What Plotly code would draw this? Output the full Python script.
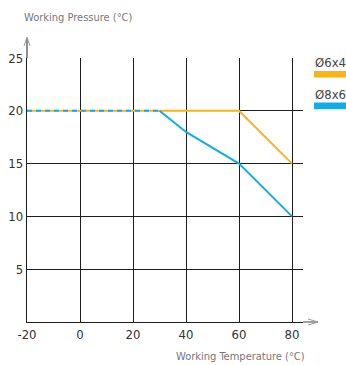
import plotly.graph_objects as go

# Data
temps_6x4 = [-20, 60, 80]
press_6x4 = [20, 20, 15]
temps_8x6_dash = [-20, 30]
press_8x6_dash = [20, 20]
temps_8x6 = [30, 40, 60, 80]
press_8x6 = [20, 18, 15, 10]
x_ticks = [-20, 0, 20, 40, 60, 80]
y_ticks = [5, 10, 15, 20, 25]
series_names = ["Ø6x4", "Ø8x6"]
series_colors = ["#FBB316", "#12ADE8"]

FONT = "DejaVu Sans Condensed, Liberation Sans Narrow, Roboto, sans-serif"
W, H = 346, 365
L, R, T, B = 27, 43, 58, 43
pw, ph = W - L - R, H - T - B

def px(xp):
    return (xp - L) / pw

def py(yp):
    return (H - B - yp) / ph

fig = go.Figure()
fig.add_trace(go.Scatter(x=temps_6x4, y=press_6x4, mode="lines",
                         line=dict(color=series_colors[0], width=2), showlegend=False))
fig.add_trace(go.Scatter(x=temps_8x6_dash, y=press_8x6_dash, mode="lines",
                         line=dict(color=series_colors[1], width=2, dash="5px,4px"), showlegend=False))
fig.add_trace(go.Scatter(x=temps_8x6, y=press_8x6, mode="lines",
                         line=dict(color=series_colors[1], width=2), showlegend=False))

grid = "#1e1e1e"
fig.update_xaxes(range=[-20, 84.15], tickvals=x_ticks, ticktext=[str(v) for v in x_ticks],
                 showgrid=True, gridcolor=grid, gridwidth=1.4, zeroline=False,
                 showline=True, linecolor=grid, linewidth=1.4, automargin=False,
                 tickfont=dict(family=FONT, size=13, color="#333"), ticks="", fixedrange=True)
fig.update_yaxes(range=[0, 25], tickvals=y_ticks, ticktext=[str(v) for v in y_ticks],
                 showgrid=True, gridcolor=grid, gridwidth=1.4, zeroline=False,
                 showline=True, linecolor=grid, linewidth=1.4, automargin=False,
                 tickfont=dict(family=FONT, size=13, color="#333"), ticks="", fixedrange=True)

shapes = []
# axis extensions with arrows
shapes.append(dict(type="line", xref="paper", yref="paper", x0=0, x1=0, y0=1, y1=py(38),
                   line=dict(color="#444", width=1.2)))
shapes.append(dict(type="path", xref="paper", yref="paper",
                   path=f"M {px(24)},{py(46)} L {px(27)},{py(37)} L {px(30)},{py(46)}",
                   line=dict(color="#999", width=1)))
shapes.append(dict(type="line", xref="paper", yref="paper", x0=1, x1=px(318), y0=0, y1=0,
                   line=dict(color="#666", width=1.2)))
shapes.append(dict(type="path", xref="paper", yref="paper",
                   path=f"M {px(308)},{py(319)} L {px(318)},{py(322)} L {px(308)},{py(325)}",
                   line=dict(color="#999", width=1)))
# legend bars
shapes.append(dict(type="rect", xref="paper", yref="paper", x0=px(314), x1=px(346),
                   y0=py(77.5), y1=py(71), fillcolor=series_colors[0], line=dict(width=0)))
shapes.append(dict(type="rect", xref="paper", yref="paper", x0=px(314), x1=px(346),
                   y0=py(109), y1=py(102.5), fillcolor=series_colors[1], line=dict(width=0)))

annotations = [
    dict(text=series_names[0], x=px(313), y=py(63), xref="paper", yref="paper",
         xanchor="left", yanchor="middle", showarrow=False,
         font=dict(family=FONT, size=13, color="#444")),
    dict(text=series_names[1], x=px(313), y=py(94), xref="paper", yref="paper",
         xanchor="left", yanchor="middle", showarrow=False,
         font=dict(family=FONT, size=13, color="#444")),
    dict(text="Working Pressure (°C)", x=px(22), y=py(17), xref="paper", yref="paper",
         xanchor="left", yanchor="middle", showarrow=False,
         font=dict(family=FONT, size=11, color="#777")),
    dict(text="Working Temperature (°C)", x=px(174), y=py(356), xref="paper", yref="paper",
         xanchor="left", yanchor="middle", showarrow=False,
         font=dict(family=FONT, size=11, color="#777")),
]

fig.update_layout(width=W, height=H, margin=dict(l=L, r=R, t=T, b=B),
                  paper_bgcolor="white", plot_bgcolor="white",
                  shapes=shapes, annotations=annotations, showlegend=False)
fig.write_html("out.html", config={"displayModeBar": False},
               post_script="document.body.style.margin='0';document.body.style.overflow='hidden';")
